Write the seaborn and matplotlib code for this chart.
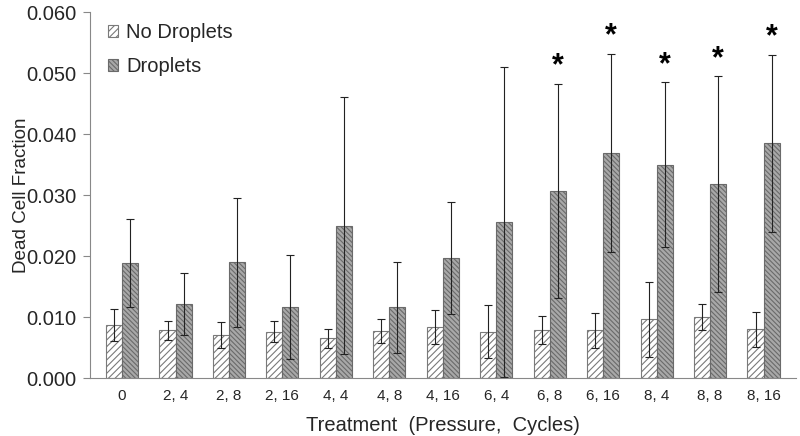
import matplotlib
matplotlib.use("Agg")
import matplotlib.pyplot as plt
import seaborn as sns
import pandas as pd
import numpy as np

categories = ["0", "2, 4", "2, 8", "2, 16", "4, 4", "4, 8", "4, 16",
              "6, 4", "6, 8", "6, 16", "8, 4", "8, 8", "8, 16"]
no_droplets = [0.0087, 0.0078, 0.0071, 0.0076, 0.0065, 0.0077, 0.0084,
               0.0076, 0.0078, 0.0078, 0.0096, 0.0100, 0.0080]
no_droplets_err = [0.0026, 0.0015, 0.0021, 0.0017, 0.0015, 0.0020, 0.0028,
                   0.0043, 0.0023, 0.0029, 0.0062, 0.0022, 0.0029]
droplets = [0.0188, 0.0122, 0.0190, 0.0116, 0.0250, 0.0116, 0.0197,
            0.0256, 0.0307, 0.0369, 0.0350, 0.0318, 0.0385]
droplets_err = [0.0072, 0.0051, 0.0106, 0.0085, 0.0211, 0.0075, 0.0092,
                0.0254, 0.0175, 0.0163, 0.0135, 0.0177, 0.0145]
significant = [False, False, False, False, False, False, False,
               False, True, True, True, True, True]
series_names = ["No Droplets", "Droplets"]

sns.set_style("white")
plt.rcParams['font.family'] = ['Liberation Sans', 'DejaVu Sans']
plt.rcParams['hatch.linewidth'] = 0.8

df = pd.DataFrame({
    "Treatment": categories * 2,
    "Value": no_droplets + droplets,
    "Series": [series_names[0]] * len(categories) + [series_names[1]] * len(categories),
})

fig = plt.figure(figsize=(8, 4.36), dpi=100)
ax = fig.add_axes([0.1125, 0.133, 0.882, 0.839])

sns.barplot(data=df, x="Treatment", y="Value", hue="Series", order=categories,
            hue_order=series_names, palette=["white", "#a8a8a8"], width=0.6,
            errorbar=None, ax=ax, edgecolor="#7a7a7a", linewidth=0.8,
            saturation=1, legend=True)

hatches = ["/////", "\\\\\\\\\\\\\\"]
hatch_colors = ["#7a7a7a", "#6a6a6a"]
n = len(categories)
bar_containers = list(ax.containers)
for ci, cont in enumerate(bar_containers):
    errs = no_droplets_err if ci == 0 else droplets_err
    xs, ys = [], []
    for bar in cont.patches:
        bar.set_hatch(hatches[ci])
        bar.set_edgecolor(hatch_colors[ci])
        xs.append(bar.get_x() + bar.get_width() / 2)
        ys.append(bar.get_height())
    ax.errorbar(xs, ys, yerr=errs, fmt="none", ecolor="#222222",
                elinewidth=0.8, capsize=3, capthick=0.8)
    if ci == 1:
        for x, y, e, s in zip(xs, ys, errs, significant):
            if s:
                ax.text(x, y + e + 0.0004, "*", ha="center", va="bottom",
                        fontsize=22, fontweight="bold", color="black")

ax.set_ylim(0, 0.060)
ax.set_xlim(-0.6, n - 0.4)
ax.set_yticks(np.arange(0, 0.0601, 0.010))
ax.set_yticklabels([f"{v:.3f}" for v in np.arange(0, 0.0601, 0.010)], fontsize=14.5)
ax.set_xticks(range(n))
ax.set_xticklabels(categories, fontsize=11)
ax.set_xticks(np.arange(-0.5, n, 1.0), minor=True)
ax.tick_params(axis="x", which="major", length=0, pad=8)
ax.tick_params(axis="x", which="minor", length=5, color="#888888", direction="out")
ax.tick_params(axis="y", length=5, color="#888888", direction="out", left=True, pad=5)
ax.set_xlabel("Treatment  (Pressure,  Cycles)", fontsize=14.5, labelpad=9)
ax.set_ylabel("Dead Cell Fraction", fontsize=13.6, labelpad=-3)

for side in ["top", "right"]:
    ax.spines[side].set_visible(False)
for side in ["left", "bottom"]:
    ax.spines[side].set_color("#888888")
    ax.spines[side].set_linewidth(0.8)

leg = ax.legend(loc="upper left", bbox_to_anchor=(0.0, 1.02), frameon=False,
                fontsize=14.5, handlelength=0.5, handleheight=0.5,
                handletextpad=0.4, labelspacing=0.75)
for h, hat, hc in zip(leg.legend_handles, hatches, hatch_colors):
    h.set_hatch(hat)
    h.set_edgecolor(hc)

fig.savefig("out.png", dpi=100)
